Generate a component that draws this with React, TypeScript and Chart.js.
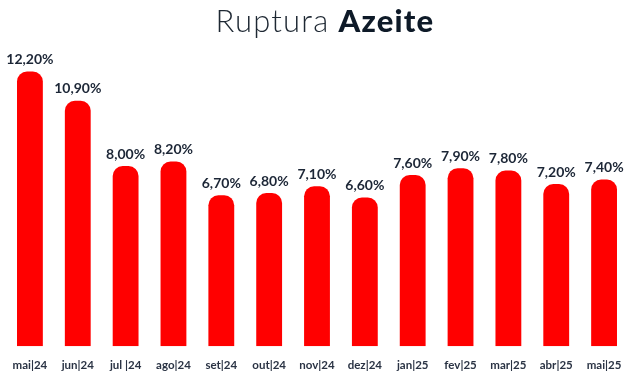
import React, { useEffect, useRef } from "react";
import { Chart, registerables } from "chart.js";

Chart.register(...registerables);

const titleLight = "Ruptura";
const titleBold = "Azeite";
const categories = [
  "mai|24", "jun|24", "jul |24", "ago|24", "set|24", "out|24", "nov|24",
  "dez|24", "jan|25", "fev|25", "mar|25", "abr|25", "mai|25",
];
const values = [12.2, 10.9, 8.0, 8.2, 6.7, 6.8, 7.1, 6.6, 7.6, 7.9, 7.8, 7.2, 7.4];
const yMin = 0;
const yMax = 14;

const fmt = (v: number) => v.toFixed(2).replace(".", ",") + "%";

const labelPlugin = {
  id: "barLabels",
  afterDatasetsDraw(chart: any) {
    const ctx = chart.ctx;
    const meta = chart.getDatasetMeta(0);
    ctx.save();
    ctx.font = "bold 14px Lato";
    ctx.fillStyle = "#1c2636";
    ctx.textAlign = "center";
    ctx.textBaseline = "bottom";
    meta.data.forEach((el: any, i: number) => {
      ctx.fillText(fmt(values[i]), el.x, el.y - 5);
    });
    ctx.restore();
  },
};

export default function App() {
  const ref = useRef<HTMLCanvasElement | null>(null);
  useEffect(() => {
    if (!ref.current) return;
    const chart = new Chart(ref.current, {
      type: "bar",
      data: {
        labels: categories,
        datasets: [
          {
            data: values,
            backgroundColor: "#ff0000",
            borderRadius: 10,
            borderSkipped: "bottom",
            barPercentage: 0.54,
            categoryPercentage: 1,
          },
        ],
      },
      options: {
        animation: false,
        responsive: false,
        maintainAspectRatio: false,
        layout: { padding: { left: 6, right: 5, top: 31, bottom: 6 } },
        plugins: { legend: { display: false }, tooltip: { enabled: false } },
        scales: {
          x: {
            grid: { display: false },
            border: { display: false },
            ticks: {
              color: "#2a3344",
              font: { family: "Lato", size: 11.5, weight: "bold" },
              padding: 4,
              maxRotation: 0,
              autoSkip: false,
            },
          },
          y: { display: false, min: yMin, max: yMax },
        },
      },
      plugins: [labelPlugin],
    });
    return () => chart.destroy();
  }, []);

  return (
    <div style={{ position: "absolute", left: 0, top: 0, width: 633, height: 382, background: "#fff" }}>
      <canvas ref={ref} width={633} height={382} style={{ position: "absolute", left: 0, top: 0 }} />
      <div
        style={{
          position: "absolute",
          left: 0,
          top: 5,
          width: 633,
          boxSizing: "border-box",
          paddingLeft: 17,
          textAlign: "center",
          fontFamily: "Lato",
          fontSize: 31,
          letterSpacing: 1.2,
          lineHeight: 1,
          color: "#1e2833",
        }}
      >
        <span style={{ fontWeight: 300 }}>{titleLight}</span>{" "}
        <span style={{ fontWeight: 900, color: "#0e1a28" }}>{titleBold}</span>
      </div>
    </div>
  );
}
